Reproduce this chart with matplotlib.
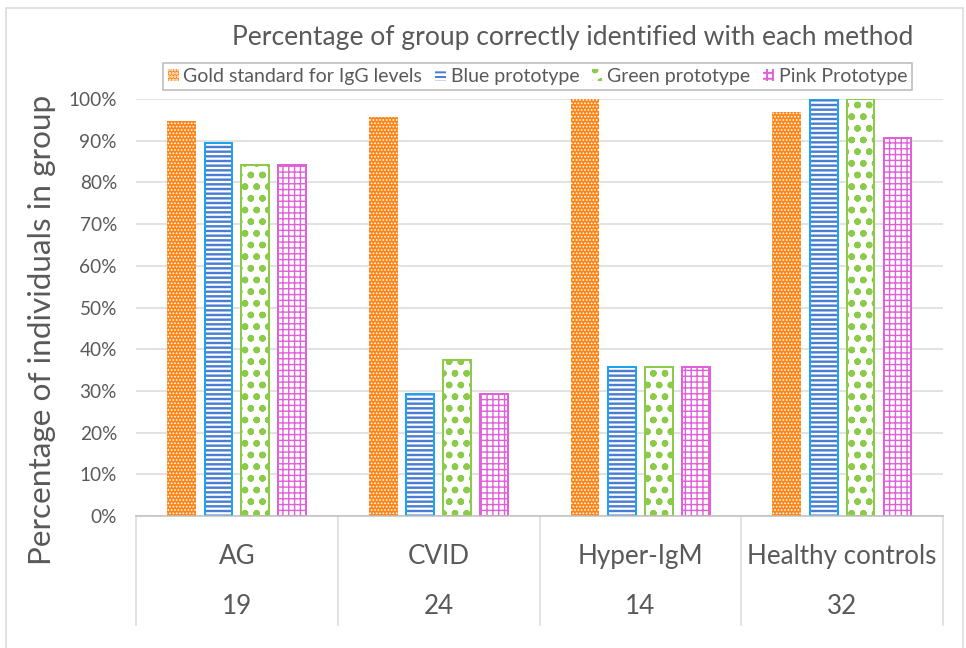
import matplotlib
matplotlib.use("Agg")
import matplotlib.pyplot as plt
import numpy as np
from matplotlib.patches import Rectangle

categories = ["AG", "CVID", "Hyper-IgM", "Healthy controls"]
counts = ["19", "24", "14", "32"]
series_names = ["Gold standard for IgG levels", "Blue prototype", "Green prototype", "Pink Prototype"]
gold = [94.7, 95.8, 100.0, 96.9]
blue = [89.5, 29.2, 35.7, 100.0]
green = [84.2, 37.5, 35.7, 100.0]
pink = [84.2, 29.2, 35.7, 90.6]
yticks = [0, 10, 20, 30, 40, 50, 60, 70, 80, 90, 100]
title = "Percentage of group correctly identified with each method"
ylabel = "Percentage of individuals in group"

DPI = 140
W, H = 966, 648
def pt(px):
    return px * 72.0 / DPI

plt.rcParams['font.family'] = ['Lato', 'DejaVu Sans']
TXT = '#595959'

fig = plt.figure(figsize=(W / DPI, H / DPI), dpi=DPI)
fig.patch.set_facecolor('white')
# outer border
fig.add_artist(Rectangle((6 / W, -0.01), (963 - 6) / W, 1 - 8 / H + 0.01, transform=fig.transFigure,
                         fill=False, edgecolor='#D9D9D9', linewidth=pt(1.5)))

ax = fig.add_axes([136 / W, 1 - 516 / H, (943 - 136) / W, (516 - 99) / H])
x = np.arange(len(categories))
step = 0.183
bw = 0.1436

styles = [
    dict(face='#FF8517', hatch='.......', hcolor='white', edge=None, hlw=pt(1.1)),
    dict(face='white', hatch='-----', hcolor='#4A7DD1', edge='#1CA5EA', hlw=pt(2.4)),
    dict(face='white', hatch='oo..', hcolor='#8CCB4A', edge='#8CCB4A', hlw=pt(2.0)),
    dict(face='white', hatch='++++', hcolor='#E160D9', edge='#E160D9', hlw=pt(1.4)),
]
data = [gold, blue, green, pink]
handles = []
for i, (vals, st) in enumerate(zip(data, styles)):
    pos = x + (i - 1.5) * step
    with plt.rc_context({'hatch.linewidth': st['hlw']}):
        bars = ax.bar(pos, vals, width=bw, color=st['face'], edgecolor=st['hcolor'],
                      hatch=st['hatch'], linewidth=0, zorder=3, label=series_names[i])
        for b in bars:
            if hasattr(b, 'set_hatch_linewidth'):
                b.set_hatch_linewidth(st['hlw'])
    if st['edge'] is not None:
        ax.bar(pos, vals, width=bw - 0.006, fill=False, edgecolor=st['edge'],
               linewidth=pt(2.0), zorder=4)
    handles.append(bars)

ax.set_xlim(-0.5, len(categories) - 0.5)
ax.set_ylim(0, 100)
ax.set_yticks(yticks)
ax.set_yticklabels([f"{t}%" for t in yticks], color=TXT, fontsize=pt(19))
ax.tick_params(axis='y', length=0, pad=pt(19))
ax.set_xticks([])
ax.grid(axis='y', color='#D9D9D9', linewidth=pt(1.5), zorder=0)
ax.set_axisbelow(True)
for s in ['top', 'right', 'left']:
    ax.spines[s].set_visible(False)
ax.spines['bottom'].set_color('#BFBFBF')
ax.spines['bottom'].set_linewidth(pt(1.5))
ax.spines['bottom'].set_zorder(5)

# category table below axis
depth = -(625 - 516) / (516 - 99)
xt = ax.get_xaxis_transform()
for b in np.arange(-0.5, len(categories), 1.0):
    ax.plot([b, b], [0, depth], transform=xt, color='#D9D9D9', linewidth=pt(1.5), clip_on=False)
y1 = -(556 - 516) / (516 - 99)
y2 = -(606 - 516) / (516 - 99)
for xi, c, n in zip(x, categories, counts):
    ax.text(xi, y1, c, transform=xt, ha='center', va='center', color=TXT, fontsize=pt(26))
    ax.text(xi, y2, n, transform=xt, ha='center', va='center', color=TXT, fontsize=pt(26))

fig.text(42 / W, 1 - 330 / H, ylabel, rotation=90, ha='center', va='center', color=TXT, fontsize=pt(31.5))
fig.text(913 / W, 1 - 38 / H, title, ha='right', va='center', color=TXT, fontsize=pt(26.5))

leg = fig.legend(handles, series_names, loc='lower left', ncol=4, mode='expand',
                 bbox_to_anchor=(163 / W, 1 - 90 / H, (912 - 163) / W, 28 / H),
                 bbox_transform=fig.transFigure, borderaxespad=0,
                 fancybox=False, frameon=True, edgecolor='#A6A6A6', fontsize=pt(19.5),
                 handlelength=0.55, handleheight=0.55, handletextpad=0.25, columnspacing=0.2,
                 borderpad=0.25, labelcolor=TXT)
leg.get_frame().set_linewidth(pt(1.5))

fig.savefig('out.png', dpi=DPI)
